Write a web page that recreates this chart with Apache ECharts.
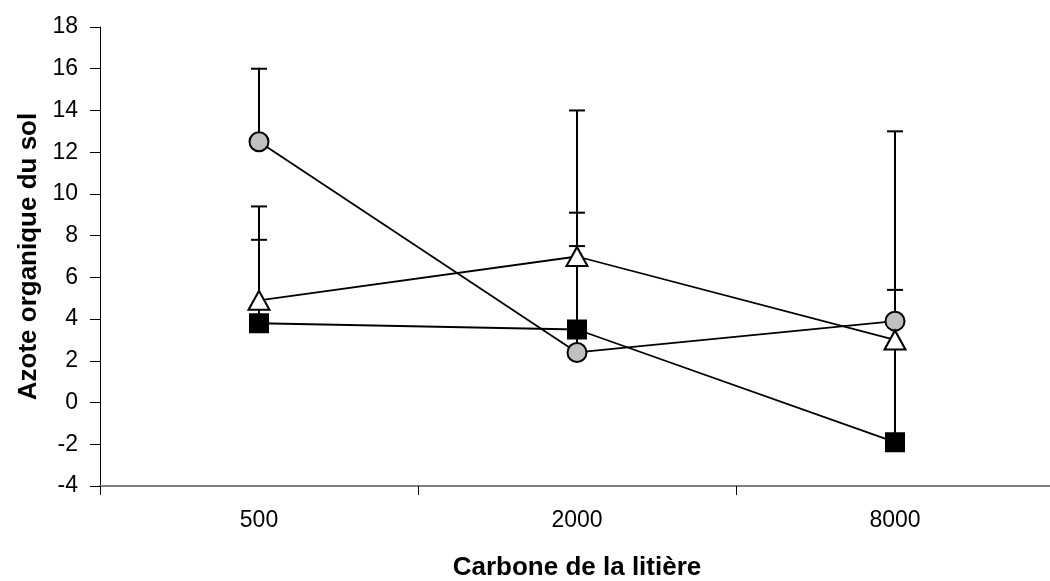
<!DOCTYPE html>
<html><head><meta charset="utf-8">
<script src="https://cdn.jsdelivr.net/npm/echarts@6/dist/echarts.min.js"></script>
<style>html,body{margin:0;padding:0;background:#fff}#c{width:1050px;height:581px}</style>
</head><body><div id="c"></div>
<script>
var categories = ['500', '2000', '8000'];
var circleValues = [12.5, 2.4, 3.9];
var circleUpper = [16.0, 7.5, 5.4];
var triangleValues = [4.9, 7.0, 3.0];
var triangleUpper = [9.4, 14.0, 3.0];
var squareValues = [3.8, 3.5, -1.9];
var squareUpper = [7.8, 9.1, 13.0];
var yMin = -4, yMax = 18, yStep = 2;

function errData(vals, ups) {
  return vals.map(function (v, i) { return [i, v, ups[i]]; });
}
function errSeries(vals, ups) {
  return {
    type: 'custom', z: 1, silent: true,
    data: errData(vals, ups),
    encode: { x: 0, y: [1, 2] },
    renderItem: function (params, api) {
      var x = api.value(0), lo = api.value(1), hi = api.value(2);
      if (hi <= lo) return null;
      var p0 = api.coord([x, lo]), p1 = api.coord([x, hi]);
      var st = { stroke: '#000', lineWidth: 2 };
      return { type: 'group', children: [
        { type: 'line', shape: { x1: p0[0], y1: p0[1], x2: p1[0], y2: p1[1] }, style: st },
        { type: 'line', shape: { x1: p1[0] - 8, y1: p1[1], x2: p1[0] + 8, y2: p1[1] }, style: st }
      ]};
    }
  };
}
function lineSeries(vals, symbol, size, fill) {
  return {
    type: 'line', z: 3, data: vals, symbol: symbol, symbolSize: size,
    showAllSymbol: true,
    lineStyle: { color: '#000', width: 1.8 },
    itemStyle: { color: fill, borderColor: '#000', borderWidth: 2 },
    emphasis: { disabled: true }
  };
}
var chart = echarts.init(document.getElementById('c'));
chart.setOption({
  animation: false,
  textStyle: { fontFamily: 'Liberation Sans, Arial, sans-serif' },
  grid: { left: 100, top: 27, width: 954, height: 459, containLabel: false, outerBoundsMode: 'none' },
  xAxis: {
    type: 'category', data: categories, boundaryGap: true,
    name: 'Carbone de la litière', nameLocation: 'middle', nameGap: 69,
    nameTextStyle: { fontSize: 26, fontWeight: 'bold', color: '#000', fontFamily: 'Liberation Sans' },
    axisLine: { onZero: false, lineStyle: { color: '#808080', width: 2 } },
    axisTick: { show: true, alignWithLabel: false, length: 9, lineStyle: { color: '#000', width: 1 } },
    axisLabel: { fontSize: 23, color: '#000', margin: 23, fontFamily: 'Liberation Sans' },
    splitLine: { show: false }
  },
  yAxis: {
    type: 'value', min: yMin, max: yMax, interval: yStep,
    name: 'Azote organique du sol', nameLocation: 'middle', nameGap: 52, nameRotate: 90,
    nameTextStyle: { fontSize: 26, fontWeight: 'bold', color: '#000', fontFamily: 'Liberation Sans' },
    axisLine: { show: true, lineStyle: { color: '#000', width: 1 } },
    axisTick: { show: true, inside: false, length: 10, lineStyle: { color: '#000' } },
    axisLabel: { fontSize: 23, color: '#000', margin: 22, fontFamily: 'Liberation Sans' },
    splitLine: { show: false }
  },
  series: [
    errSeries(circleValues, circleUpper),
    errSeries(triangleValues, triangleUpper),
    errSeries(squareValues, squareUpper),
    lineSeries(circleValues, 'circle', 19, '#c0c0c0'),
    lineSeries(triangleValues, 'triangle', [21, 19], '#ffffff'),
    lineSeries(squareValues, 'rect', 18, '#000000')
  ]
});
</script></body></html>
